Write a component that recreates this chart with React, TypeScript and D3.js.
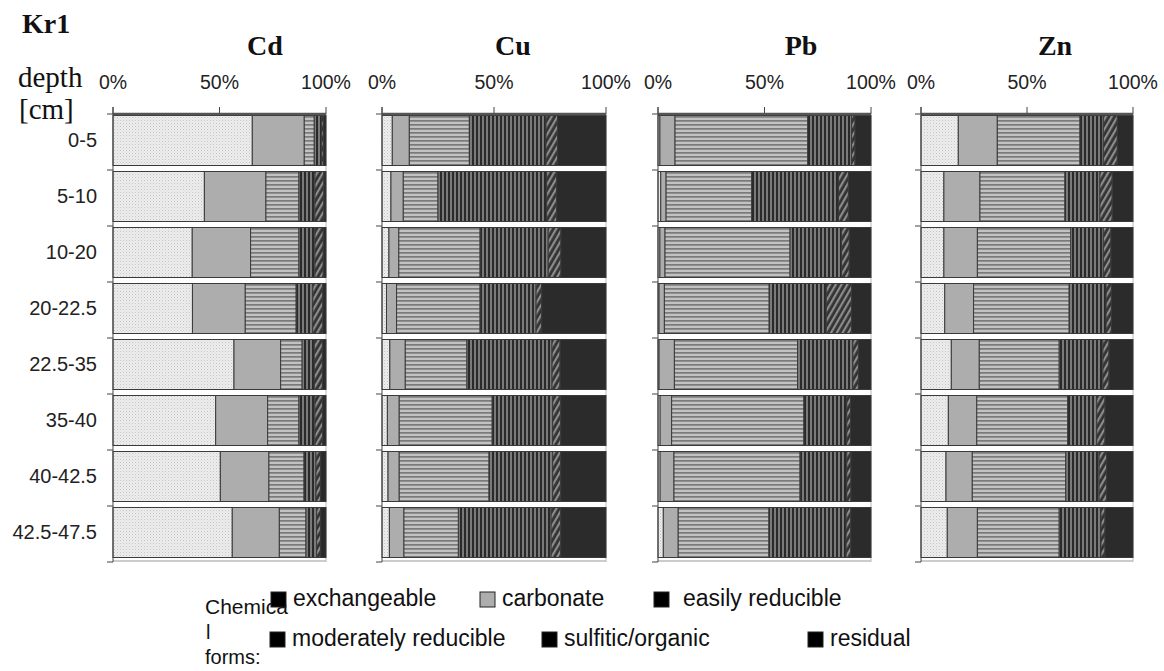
import React from "react";
import * as d3 from "d3";

const depths = ["0-5", "5-10", "10-20", "20-22.5", "22.5-35", "35-40", "40-42.5", "42.5-47.5"];
const forms = ["exchangeable", "carbonate", "easily reducible", "moderately reducible", "sulfitic/organic", "residual"];
const metals = ["Cd", "Cu", "Pb", "Zn"];

// percentages per depth: exch, carb, easily red, mod red, sulf/org, residual
const cdValues = [
  [65.4, 24.4, 4.7, 3.5, 0.8, 1.2],
  [42.9, 28.9, 15.5, 7.5, 4.2, 1.0],
  [37.2, 27.4, 22.7, 7.5, 3.9, 1.3],
  [37.3, 24.8, 23.9, 7.8, 4.7, 1.5],
  [56.8, 21.9, 10.1, 5.7, 3.8, 1.7],
  [48.2, 24.4, 14.7, 7.5, 3.6, 1.6],
  [50.4, 22.8, 16.5, 5.6, 2.2, 2.5],
  [56.0, 22.1, 12.5, 5.0, 1.9, 2.5],
];
const cuValues = [
  [4.6, 7.6, 26.8, 34.2, 5.2, 21.6],
  [4.0, 5.5, 15.5, 48.5, 4.5, 22.0],
  [3.1, 4.4, 36.3, 30.4, 5.7, 20.1],
  [2.0, 4.5, 37.3, 25.0, 2.5, 28.7],
  [3.5, 6.9, 27.5, 38.0, 3.6, 20.5],
  [2.4, 5.3, 41.5, 27.0, 3.6, 20.2],
  [2.7, 5.0, 40.1, 28.4, 3.6, 20.2],
  [3.3, 6.5, 24.3, 41.4, 4.3, 20.2],
];
const pbValues = [
  [0.9, 7.1, 62.3, 20.6, 1.6, 7.5],
  [1.3, 2.5, 40.2, 40.7, 4.7, 10.6],
  [0.9, 2.4, 58.7, 24.2, 3.6, 10.2],
  [0.5, 2.5, 49.2, 26.8, 11.9, 9.1],
  [0.5, 7.2, 57.8, 26.0, 2.6, 5.9],
  [1.0, 5.4, 62.1, 20.1, 1.8, 9.6],
  [1.0, 6.5, 59.2, 21.9, 2.0, 9.4],
  [2.5, 7.0, 42.6, 36.2, 2.2, 9.5],
];
const znValues = [
  [17.6, 18.4, 39.0, 11.0, 6.6, 7.4],
  [10.8, 17.0, 40.1, 16.5, 5.8, 9.8],
  [10.8, 15.8, 44.0, 15.4, 3.6, 10.4],
  [11.2, 13.6, 45.1, 17.4, 2.5, 10.2],
  [14.3, 13.2, 37.7, 20.6, 2.9, 11.3],
  [12.9, 13.4, 42.9, 13.7, 3.9, 13.2],
  [11.8, 12.4, 44.1, 15.7, 3.6, 12.4],
  [12.4, 14.2, 38.6, 19.7, 1.9, 13.2],
];
const tickValues = [0, 50, 100];
const tickLabels = ["0%", "50%", "100%"];

const panelValues = [cdValues, cuValues, pbValues, znValues];
const panelRanges: [number, number][] = [[113, 326], [382, 606], [658, 871], [921, 1133]];
const titleX = [265, 513, 801, 1055];
const fills = ["url(#p-exch)", "#adadad", "url(#p-easy)", "url(#p-mod)", "url(#p-sulf)", "#2b2b2b"];
const legendFill = ["#000", "#adadad", "#000", "#000", "#000", "#000"];
const legendPos = [
  [271, 592], [480, 592], [654, 592],
  [270, 632], [542, 632], [808, 632],
];

const TOP = 114;
const BOTTOM = 562;

function Panel({ idx }: { idx: number }) {
  const [x0, x1] = panelRanges[idx];
  const x = d3.scaleLinear().domain([0, 100]).range([x0, x1]);
  const y = d3.scaleBand<string>().domain(depths).range([TOP, BOTTOM]);
  const rows = panelValues[idx].map((v, i) => {
    const o: any = { depth: depths[i] };
    forms.forEach((f, k) => (o[f] = v[k]));
    return o;
  });
  const series = d3.stack<any>().keys(forms)(rows);
  const bw = y.bandwidth();
  return (
    <g>
      <text x={titleX[idx]} y={55} fontFamily="Liberation Serif" fontWeight="bold" fontSize={28} textAnchor="middle" fill="#111">
        {metals[idx]}
      </text>
      {tickValues.map((t, i) => (
        <g key={t}>
          <line x1={x(t)} x2={x(t)} y1={TOP - 7} y2={TOP} stroke="#444" strokeWidth={1} />
          <text x={x(t)} y={89} fontFamily="Liberation Sans" fontSize={19.5} textAnchor="middle" fill="#222">
            {tickLabels[i]}
          </text>
        </g>
      ))}
      <line x1={x1} x2={x1} y1={TOP} y2={BOTTOM} stroke="#bbb" strokeWidth={1} />
      <line x1={x0} x2={x1} y1={BOTTOM - 1} y2={BOTTOM - 1} stroke="#bbb" strokeWidth={1.5} />
      {series.map((s, k) =>
        s.map((d, i) => (
          <rect
            key={k + "-" + i}
            x={x(d[0])}
            y={(y(depths[i]) as number) + 1.5}
            width={Math.max(0, x(d[1]) - x(d[0]))}
            height={bw - 6}
            fill={fills[k]}
            stroke="#3a3a3a"
            strokeWidth={1}
          />
        ))
      )}
      <line x1={x0} x2={x1} y1={TOP} y2={TOP} stroke="#555" strokeWidth={2.5} />
      <line x1={x0} x2={x0} y1={TOP - 7} y2={BOTTOM} stroke="#444" strokeWidth={1} />
      {depths.concat([""]).map((d, i) => {
        const yy = TOP + i * bw;
        return <line key={i} x1={x0 - 6} x2={x0} y1={yy} y2={yy} stroke="#444" strokeWidth={1} />;
      })}
      {idx === 0 &&
        depths.map((d) => (
          <text key={d} x={97} y={(y(d) as number) + bw / 2 - 2} dy="0.35em" fontFamily="Liberation Sans" fontSize={20} textAnchor="end" fill="#222">
            {d}
          </text>
        ))}
    </g>
  );
}

export default function App() {
  return (
    <svg width={1164} height={671} style={{ position: "absolute", left: 0, top: 0, background: "#fff" }}>
      <defs>
        <pattern id="p-exch" width="3" height="3" patternUnits="userSpaceOnUse">
          <rect width="3" height="3" fill="#ededed" />
          <rect x="0" y="0" width="1" height="1" fill="#c4c4c4" />
          <rect x="1.5" y="1.5" width="1" height="1" fill="#d6d6d6" />
        </pattern>
        <pattern id="p-easy" width="4" height="4" patternUnits="userSpaceOnUse">
          <rect width="4" height="4" fill="#c2c2c2" />
          <rect x="0" y="0" width="4" height="1.7" fill="#7a7a7a" />
        </pattern>
        <pattern id="p-mod" width="4" height="4" patternUnits="userSpaceOnUse">
          <rect width="4" height="4" fill="#7a7a7a" />
          <rect x="0" y="0" width="2" height="4" fill="#2a2a2a" />
        </pattern>
        <pattern id="p-sulf" width="5" height="5" patternUnits="userSpaceOnUse" patternTransform="rotate(30)">
          <rect width="5" height="5" fill="#333" />
          <rect x="0" y="0" width="2.2" height="5" fill="#8c8c8c" />
        </pattern>
      </defs>
      <text x={22} y={33} fontFamily="Liberation Serif" fontWeight="bold" fontSize={28} fill="#111">Kr1</text>
      <text x={18} y={87} fontFamily="Liberation Serif" fontSize={29} fill="#111">depth</text>
      <text x={19} y={119} fontFamily="Liberation Serif" fontSize={29} fill="#111">[cm]</text>
      {metals.map((m, i) => (
        <Panel key={m} idx={i} />
      ))}
      <g fontFamily="Liberation Sans" fill="#111">
        <text x={205} y={614} fontSize={21}>Chemica</text>
        <text x={206} y={639} fontSize={20}>l</text>
        <text x={205} y={664} fontSize={20}>forms:</text>
        {forms.map((f, i) => (
          <g key={f}>
            <rect x={legendPos[i][0]} y={legendPos[i][1]} width={15} height={15} fill={legendFill[i]} stroke="#222" strokeWidth={1} />
            <text x={legendPos[i][0] + (i === 2 ? 29 : 22)} y={legendPos[i][1] + 14} fontSize={23}>{f}</text>
          </g>
        ))}
      </g>
    </svg>
  );
}
